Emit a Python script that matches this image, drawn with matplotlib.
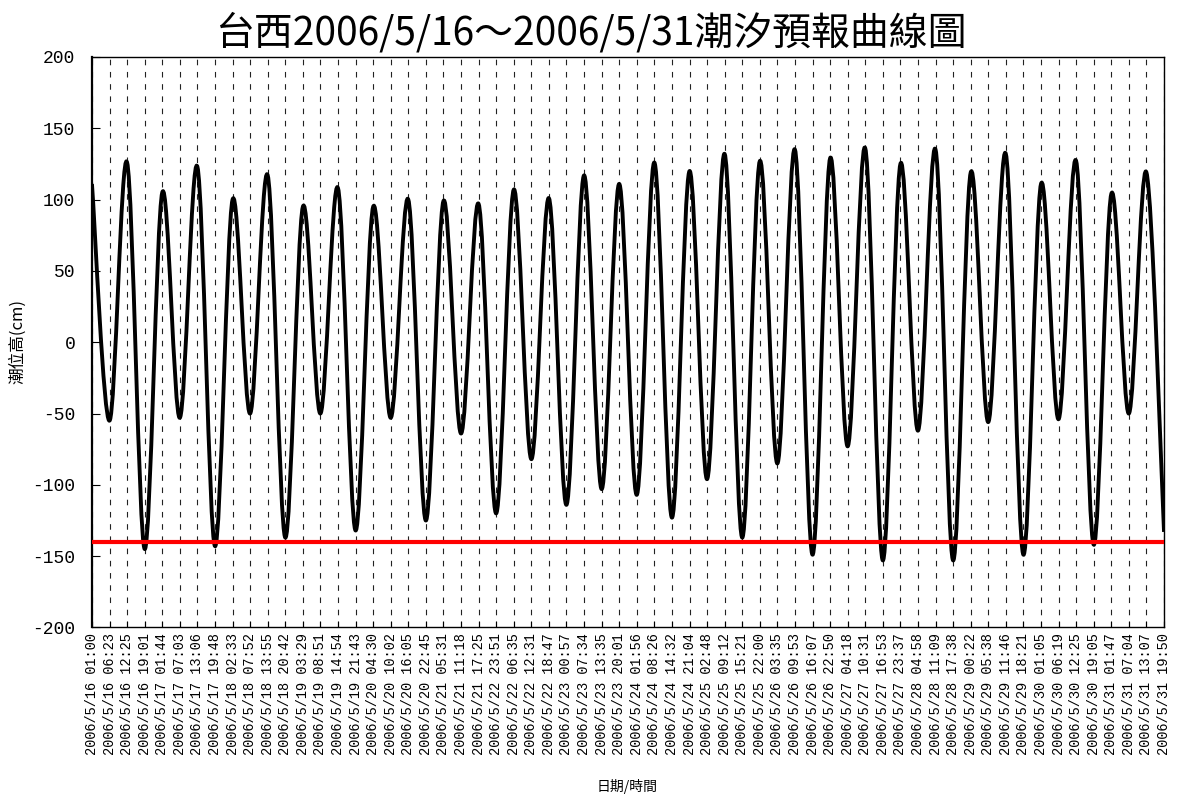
import numpy as np
import matplotlib
matplotlib.use('Agg')
import matplotlib.pyplot as plt
from matplotlib.path import Path
from matplotlib.patches import PathPatch

plt.rcParams['axes.unicode_minus'] = False

# fechas/horas de pleamar y bajamar
dates = ['2006/5/16'] * 4 + ['2006/5/17'] * 4 + ['2006/5/18'] * 4 + ['2006/5/19'] * 4 + \
        ['2006/5/20'] * 4 + ['2006/5/21'] * 3 + ['2006/5/22'] * 4 + ['2006/5/23'] * 4 + \
        ['2006/5/24'] * 4 + ['2006/5/25'] * 4 + ['2006/5/26'] * 4 + ['2006/5/27'] * 4 + \
        ['2006/5/28'] * 3 + ['2006/5/29'] * 4 + ['2006/5/30'] * 4 + ['2006/5/31'] * 4
times = ['01:00', '06:23', '12:25', '19:01', '01:44', '07:03', '13:06', '19:48',
         '02:33', '07:52', '13:55', '20:42', '03:29', '08:51', '14:54', '21:43',
         '04:30', '10:02', '16:05', '22:45', '05:31', '11:18', '17:25', '23:51',
         '06:35', '12:31', '18:47', '00:57', '07:34', '13:35', '20:01', '01:56',
         '08:26', '14:32', '21:04', '02:48', '09:12', '15:21', '22:00', '03:35',
         '09:53', '16:07', '22:50', '04:18', '10:31', '16:53', '23:37', '04:58',
         '11:09', '17:38', '00:22', '05:38', '11:46', '18:21', '01:05', '06:19',
         '12:25', '19:05', '01:47', '07:04', '13:07', '19:50']
# niveles (cm)
tide = [111, -55, 126, -145, 105, -53, 123, -143, 100, -50, 117, -137,
        95, -50, 108, -132, 95, -53, 100, -125, 99, -64, 97, -120,
        107, -82, 101, -114, 117, -103, 111, -107, 126, -123, 120, -96,
        132, -137, 127, -85, 135, -149, 129, -73, 136, -153, 125, -62,
        135, -153, 119, -56, 132, -149, 111, -54, 127, -142, 104, -50,
        119, -133]
warning_level = -140

labels = [d + ' ' + t for d, t in zip(dates, times)]

fig = plt.figure(figsize=(11.85, 7.98), dpi=100)
ax = fig.add_axes([0.0776, 0.2137, 0.9047, 0.7149])

# curva suavizada (bezier) como en excel
x = np.arange(len(tide), dtype=float)
y = np.array(tide, dtype=float)
n = len(x)
verts = [(x[0], y[0])]
codes = [Path.MOVETO]
for i in range(n - 1):
    a = max(i - 1, 0)
    b = min(i + 2, n - 1)
    c1 = (x[i] + (x[i + 1] - x[a]) / 6, y[i] + (y[i + 1] - y[a]) / 6)
    c2 = (x[i + 1] - (x[b] - x[i]) / 6, y[i + 1] - (y[b] - y[i]) / 6)
    verts += [c1, c2, (x[i + 1], y[i + 1])]
    codes += [Path.CURVE4] * 3
ax.add_patch(PathPatch(Path(verts, codes), fill=False, edgecolor='black',
                       linewidth=2.8, zorder=2, joinstyle='round'))

ax.axhline(warning_level, color='#ff0000', linewidth=3, zorder=3)

ax.set_xlim(0, n - 1)
ax.set_ylim(-200, 200)
ax.set_yticks(np.arange(-200, 201, 50))
ax.set_xticks(x)
ax.set_xticklabels(labels, rotation=90, family='Liberation Mono', fontsize=9.8)
for t in ax.get_yticklabels():
    t.set_family('Liberation Mono')
    t.set_fontsize(13)
ax.tick_params(axis='x', direction='in', length=4, pad=4, width=0.8)
ax.tick_params(axis='y', direction='in', length=6, pad=12, width=0.8)

ax.grid(axis='x', color='#222222', linestyle=(0, (5, 6)), linewidth=0.8)
for s in ax.spines.values():
    s.set_linewidth(1.0)
ax.spines['left'].set_linewidth(1.6)

fig.text(591 / 1185, 1 - 33 / 798, '台西2006/5/16～2006/5/31潮汐預報曲線圖',
         ha='center', va='center', fontsize=28, family=['Noto Sans CJK TC', 'DejaVu Sans'])
fig.text(18 / 1185, 1 - 342 / 798, '潮位高(cm)', rotation=90, ha='center', va='center',
         fontsize=12, family=['Noto Sans CJK TC', 'DejaVu Sans'])
fig.text(627 / 1185, 1 - 787 / 798, '日期/時間', ha='center', va='center',
         fontsize=10, family=['Noto Sans CJK TC', 'DejaVu Sans'])

fig.savefig('out.png', dpi=100)
